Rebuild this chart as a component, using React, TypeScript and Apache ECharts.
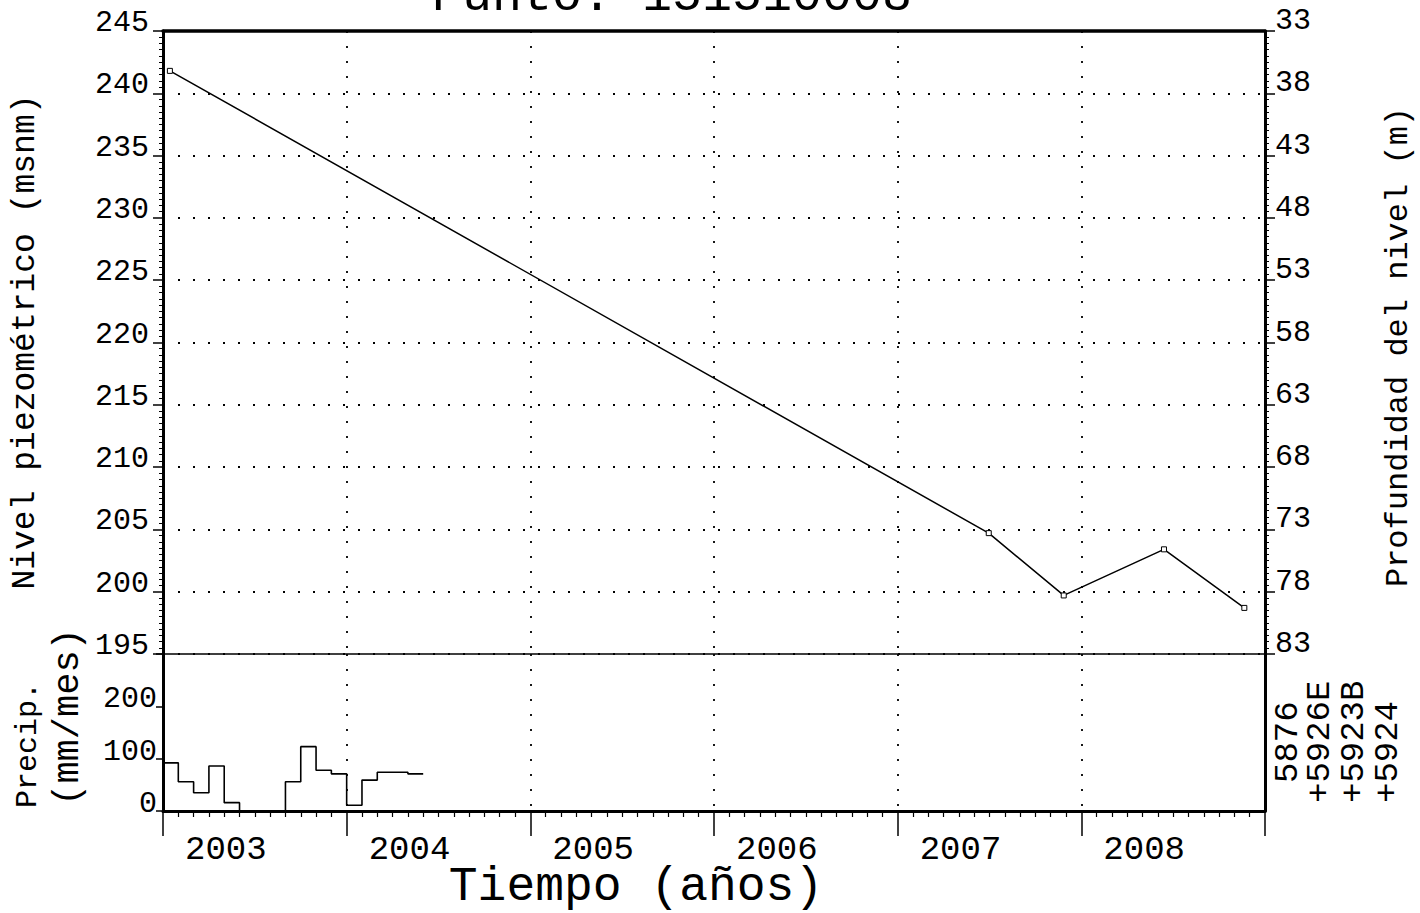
import React, { useEffect, useRef } from "react";
import * as echarts from "echarts";

// ---- data ----
const yearLabels = ["2003", "2004", "2005", "2006", "2007", "2008"];
// level measurements: month offset from Jan 2003, level (msnm)
const levelMonths = [0.45, 53.95, 58.85, 65.4, 70.65];
const levelValues = [241.8, 204.7, 199.7, 203.4, 198.7];
// monthly precipitation (mm/mes), starting Jan 2003
const precipValues = [92, 56, 35, 86, 16, 0, 0, 0, 56, 123, 78, 71, 11, 59, 74, 74, 71];
const stationLabels = ["5876", "+5926E", "+5923B", "+5924"];

const FONT = "Liberation Mono";
const BLACK = "#000";
const dotted = { color: BLACK, type: [2, 13] as any, width: 1.8 };

export default function App() {
  const ref = useRef<HTMLDivElement>(null);
  useEffect(() => {
    if (!ref.current) return;
    const chart = echarts.init(ref.current, null, { renderer: "svg" });
    const precipData: number[][] = precipValues.map((v, i) => [i, v]);
    precipData.push([precipValues.length, precipValues[precipValues.length - 1]]);
    const stationX = [1288, 1320, 1354, 1388];
    const stationY = [783, 803, 803, 803];

    chart.setOption({
      animation: false,
      backgroundColor: "#fff",
      grid: [
        { left: 163, right: 155, top: 31, height: 623 },
        { left: 163, right: 155, top: 654, height: 157 },
      ],
      xAxis: [
        {
          gridIndex: 0, type: "value", min: 0, max: 72, interval: 12, position: "bottom",
          axisLine: { show: true, onZero: false, lineStyle: { color: BLACK, width: 1.5 } },
          axisTick: { show: false }, axisLabel: { show: false },
          splitLine: { show: true, lineStyle: dotted },
        },
        {
          gridIndex: 0, type: "value", min: 0, max: 72, interval: 12, position: "top",
          axisLine: { show: true, onZero: false, lineStyle: { color: BLACK, width: 3.5 } },
          axisTick: { show: false }, axisLabel: { show: false }, splitLine: { show: false },
        },
        {
          gridIndex: 1, type: "value", min: 0, max: 72, interval: 12, position: "bottom",
          axisLine: { show: true, onZero: false, lineStyle: { color: BLACK, width: 3 } },
          axisTick: { show: true, length: 25, lineStyle: { color: BLACK, width: 1.5 } },
          minorTick: { show: true, splitNumber: 12, length: 6, lineStyle: { color: BLACK, width: 1.2 } },
          axisLabel: {
            show: true, margin: 26, fontSize: 34, lineHeight: 26, fontFamily: FONT, color: BLACK, align: "left",
            padding: [0, 0, 0, 22],
            formatter: (v: number) => {
              const i = Math.round(v / 12);
              return i < yearLabels.length ? yearLabels[i] : "";
            },
          },
          splitLine: { show: true, lineStyle: dotted },
        },
      ],
      yAxis: [
        {
          gridIndex: 0, type: "value", min: 195, max: 245, interval: 5, position: "left",
          axisLine: { show: true, onZero: false, lineStyle: { color: BLACK, width: 3 } },
          axisTick: { show: true, length: 10, lineStyle: { color: BLACK, width: 1.5 } },
          minorTick: { show: true, splitNumber: 10, length: 4, lineStyle: { color: BLACK, width: 1 } },
          axisLabel: {
            margin: 14, fontSize: 30, fontFamily: FONT, color: BLACK,
            verticalAlign: "bottom", lineHeight: 16,
          },
          splitLine: { show: true, lineStyle: dotted },
        },
        {
          gridIndex: 0, type: "value", min: 33, max: 83, interval: 5, inverse: true, position: "right",
          axisLine: { show: true, onZero: false, lineStyle: { color: BLACK, width: 3 } },
          axisTick: { show: true, length: 10, lineStyle: { color: BLACK, width: 1.5 } },
          minorTick: { show: true, splitNumber: 10, length: 4, lineStyle: { color: BLACK, width: 1 } },
          axisLabel: {
            margin: 10, fontSize: 30, fontFamily: FONT, color: BLACK,
            verticalAlign: "bottom", lineHeight: 20,
          },
          splitLine: { show: false },
        },
        {
          gridIndex: 1, type: "value", min: 0, max: 300, interval: 100, position: "left",
          axisLine: { show: true, onZero: false, lineStyle: { color: BLACK, width: 3 } },
          axisTick: { show: true, length: 7, lineStyle: { color: BLACK, width: 1.5 } },
          axisLabel: {
            margin: 6, fontSize: 30, fontFamily: FONT, color: BLACK,
            verticalAlign: "bottom", lineHeight: 14,
            formatter: (v: number) => (v >= 300 ? "" : String(v)),
          },
          splitLine: { show: false },
        },
        {
          gridIndex: 1, type: "value", min: 0, max: 300, interval: 100, position: "right",
          axisLine: { show: true, onZero: false, lineStyle: { color: BLACK, width: 3 } },
          axisTick: { show: false }, axisLabel: { show: false }, splitLine: { show: false },
        },
      ],
      series: [
        {
          type: "line", xAxisIndex: 0, yAxisIndex: 0,
          data: levelMonths.map((m, i) => [m, levelValues[i]]),
          symbol: "rect", symbolSize: 5,
          itemStyle: { color: "#fff", borderColor: BLACK, borderWidth: 1 },
          lineStyle: { color: BLACK, width: 1.5 },
          silent: true,
        },
        {
          type: "line", xAxisIndex: 2, yAxisIndex: 2, step: "end",
          data: precipData, symbol: "none",
          lineStyle: { color: BLACK, width: 1.6 },
          silent: true,
        },
      ],
      graphic: [
        {
          type: "text", x: 432, y: -4,
          style: { text: "Punto: 151510008", fontSize: 50, fontFamily: FONT, fill: BLACK, align: "left", verticalAlign: "middle" },
        },
        {
          type: "text", x: 25, y: 342, rotation: Math.PI / 2,
          style: { text: "Nivel piezométrico (msnm)", fontSize: 33, fontFamily: FONT, fill: BLACK, align: "center", verticalAlign: "middle" },
        },
        {
          type: "text", x: 1398, y: 347, rotation: Math.PI / 2,
          style: { text: "Profundidad del nivel (m)", fontSize: 32, fontFamily: FONT, fill: BLACK, align: "center", verticalAlign: "middle" },
        },
        {
          type: "text", x: 28, y: 745, rotation: Math.PI / 2,
          style: { text: "Precip.", fontSize: 30, fontFamily: FONT, fill: BLACK, align: "center", verticalAlign: "middle" },
        },
        {
          type: "text", x: 68, y: 717, rotation: Math.PI / 2,
          style: { text: "(mm/mes)", fontSize: 37, fontFamily: FONT, fill: BLACK, align: "center", verticalAlign: "middle" },
        },
        {
          type: "text", x: 636, y: 887,
          style: { text: "Tiempo (años)", fontSize: 48, lineHeight: 40, fontFamily: FONT, fill: BLACK, align: "center", verticalAlign: "middle" },
        },
        ...stationLabels.map((t, i) => ({
          type: "text", x: stationX[i], y: stationY[i], rotation: Math.PI / 2,
          style: { text: t, fontSize: 34, fontFamily: FONT, fill: BLACK, align: "left", verticalAlign: "middle" },
        })),
      ],
    });
    return () => chart.dispose();
  }, []);
  return (
    <div
      ref={ref}
      style={{ position: "fixed", left: 0, top: 0, width: 1420, height: 913, background: "#fff" }}
    />
  );
}
